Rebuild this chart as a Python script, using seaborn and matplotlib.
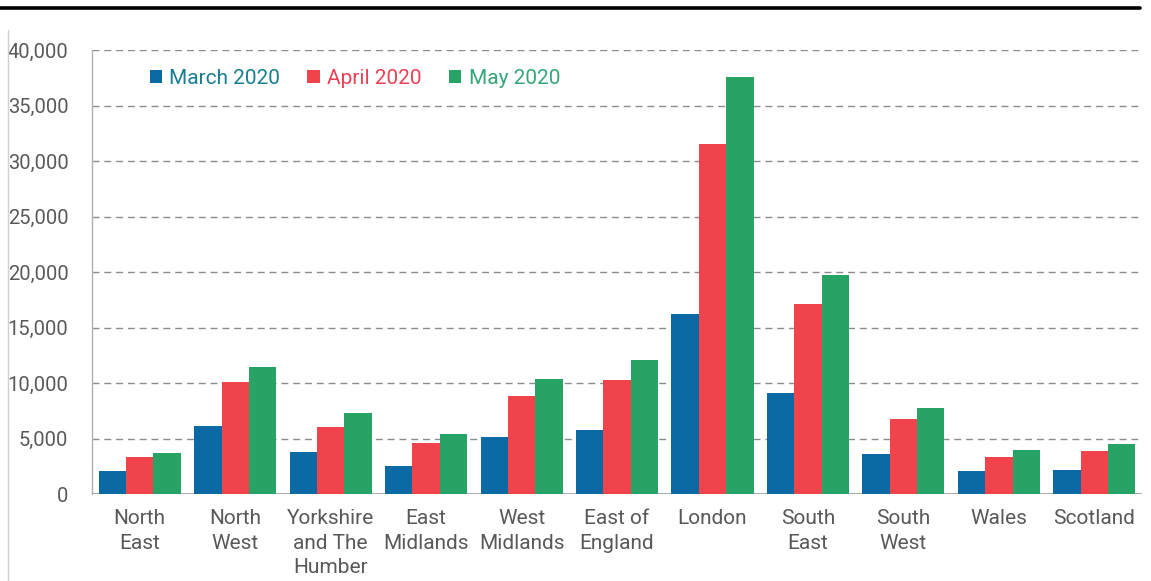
import matplotlib
matplotlib.use("Agg")
import matplotlib.pyplot as plt
from matplotlib.lines import Line2D
import seaborn as sns
import pandas as pd

regions = ["North\nEast", "North\nWest", "Yorkshire\nand The\nHumber", "East\nMidlands",
           "West\nMidlands", "East of\nEngland", "London", "South\nEast", "South\nWest",
           "Wales", "Scotland"]
months = ["March 2020", "April 2020", "May 2020"]
march = [2100, 6090, 3790, 2540, 5170, 5760, 16260, 9100, 3620, 2070, 2130]
april = [3340, 10050, 6070, 4630, 8870, 10300, 31500, 17100, 6780, 3320, 3830]
may = [3650, 11400, 7290, 5440, 10390, 12030, 37540, 19700, 7790, 3920, 4520]
yticks = [0, 5000, 10000, 15000, 20000, 25000, 30000, 35000, 40000]

bar_colors = ["#0b69a3", "#f0434b", "#27a366"]
text_colors = ["#177f8f", "#ea4356", "#34a678"]

df = pd.DataFrame({
    "region": regions * 3,
    "month": [m for m in months for _ in regions],
    "value": march + april + may,
})

sns.set_theme(style="white")
plt.rcParams["font.family"] = ["Roboto", "DejaVu Sans"]

fig = plt.figure(figsize=(11.51, 5.81), dpi=100)
ax = fig.add_axes([92 / 1151, 1 - 494 / 581, 1050 / 1151, 444 / 581])

sns.barplot(data=df, x="region", y="value", hue="month", order=regions,
            hue_order=months, palette=bar_colors, width=0.86, saturation=1,
            linewidth=0, ax=ax, legend=True)

ax.set_xlim(-0.5, len(regions) - 0.5)
ax.set_ylim(0, 40000)
ax.set_yticks(yticks)
ax.set_yticklabels([f"{v:,}" for v in yticks])
ax.set_xlabel("")
ax.set_ylabel("")

ax.yaxis.grid(True, linestyle=(0, (5, 3.5)), color="#8c8c8c", linewidth=1.0)
ax.set_axisbelow(True)
ax.axhline(0, color="#a0a0a0", linewidth=1.2, zorder=0.5)

for side in ["top", "right", "bottom"]:
    ax.spines[side].set_visible(False)
ax.spines["left"].set_color("#b0b0b0")
ax.spines["left"].set_linewidth(1.0)

ax.tick_params(axis="both", length=0, colors="#595959")
ax.tick_params(axis="y", pad=17, labelsize=14.5)
ax.tick_params(axis="x", pad=11, labelsize=15)
for lbl in ax.get_xticklabels():
    lbl.set_linespacing(1.36)

leg = ax.legend(loc="upper left", bbox_to_anchor=(0.037, 1.0), ncol=3, frameon=False,
                handlelength=0.6, handleheight=0.6, handletextpad=0.35,
                columnspacing=1.3, prop={"size": 15})
for txt, col in zip(leg.get_texts(), text_colors):
    txt.set_color(col)

# heavy rule across the top and a faint panel edge on the left
fig.add_artist(Line2D([0, 1140 / 1151], [1 - 8 / 581, 1 - 8 / 581], color="black",
                      linewidth=2.6, transform=fig.transFigure))
fig.add_artist(Line2D([8 / 1151, 8 / 1151], [0, 1 - 30 / 581], color="#d0d0d0",
                      linewidth=1.0, transform=fig.transFigure))

fig.savefig("out.png", dpi=100, facecolor="white")
